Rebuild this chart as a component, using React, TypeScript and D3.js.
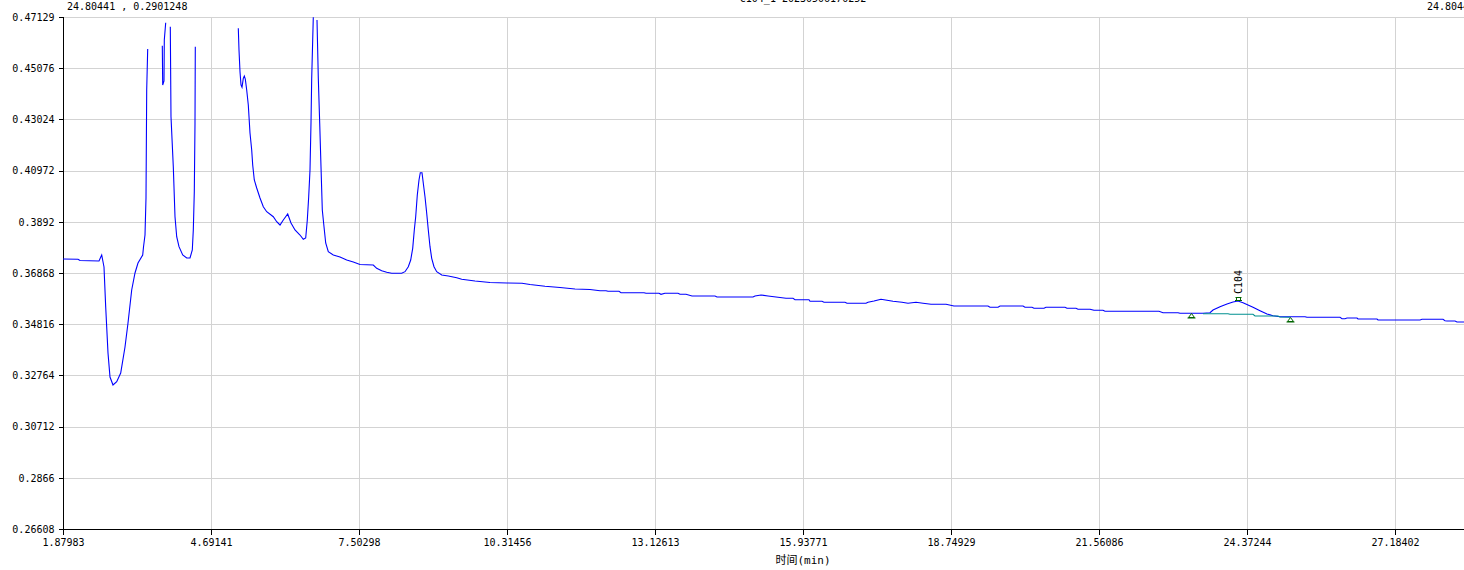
import React, { useRef, useEffect } from "react";
import * as d3 from "d3";

// axis ticks as printed by the instrument software (last one lies past the window edge)
const xTicks = [
  1.87983, 4.69141, 7.50298, 10.31456, 13.12613, 15.93771, 18.74929, 21.56086,
  24.37244, 27.18402, 29.9956,
];
const yTicks = [
  0.26608, 0.2866, 0.30712, 0.32764, 0.34816, 0.36868, 0.3892, 0.40972,
  0.43024, 0.45076, 0.47129,
];

const cursorText = "24.80441 , 0.2901248";
const cursorRight = "24.80441";
const sampleTitle = "C104_1 20230506170252";
const xTitle = "时间(min)";

// chromatogram trace [time (min), signal]; values above the top are off-scale peaks
const trace: [number, number][] = [
  [1.8798, 0.3743], [2.1648, 0.37418], [2.2028, 0.3737], [2.5637, 0.37349],
  [2.615, 0.3759], [2.6587, 0.37109], [2.691, 0.35506], [2.7347, 0.33662],
  [2.7727, 0.327], [2.8297, 0.3238], [2.9, 0.32512], [2.976, 0.32861],
  [3.0577, 0.33903], [3.1147, 0.34865], [3.1849, 0.36187], [3.2476, 0.36869],
  [3.3046, 0.37269], [3.3939, 0.3759], [3.4091, 0.37911], [3.4376, 0.38392],
  [3.4566, 0.39875], [3.4699, 0.44203], [3.4889, 0.45846], [3.5326, 0.52],
  [3.6846, 0.5], [3.7663, 0.45979], [3.7739, 0.44404], [3.7986, 0.44564],
  [3.8043, 0.46207], [3.8308, 0.46901], [3.865, 0.53], [3.9182, 0.4674],
  [3.9315, 0.43133], [3.9752, 0.41129], [4.0075, 0.39125], [4.0398, 0.38323],
  [4.0835, 0.37923], [4.1538, 0.3759], [4.2298, 0.3747], [4.2925, 0.3747],
  [4.3362, 0.3779], [4.3552, 0.38592], [4.3742, 0.40127], [4.3875, 0.42881],
  [4.3932, 0.45939], [4.4255, 0.52], [4.8624, 0.55], [5.1853, 0.5],
  [5.21, 0.46676], [5.2233, 0.45806], [5.2423, 0.44937], [5.2613, 0.44404],
  [5.2803, 0.44311], [5.305, 0.44672], [5.324, 0.44764], [5.343, 0.44644],
  [5.3696, 0.44203], [5.4, 0.43602], [5.4323, 0.4248], [5.4646, 0.41798],
  [5.4836, 0.41197], [5.514, 0.40596], [5.5596, 0.40275], [5.6223, 0.39875],
  [5.685, 0.39526], [5.7496, 0.39325], [5.8749, 0.39125], [5.9395, 0.38925],
  [6.0022, 0.38792], [6.0649, 0.38993], [6.1485, 0.39233], [6.2112, 0.38873],
  [6.2872, 0.38592], [6.3822, 0.38392], [6.4449, 0.38219], [6.4904, 0.38271],
  [6.5209, 0.38993], [6.5474, 0.39927], [6.5721, 0.40997], [6.5911, 0.42881],
  [6.6044, 0.44672], [6.6234, 0.46207], [6.6348, 0.47117], [6.6671, 0.53],
  [6.7051, 0.47009], [6.7298, 0.44684], [6.7564, 0.42881], [6.7811, 0.41129],
  [6.8058, 0.39394], [6.8381, 0.38724], [6.8704, 0.38071], [6.9198, 0.37722],
  [7.0148, 0.3759], [7.1421, 0.3751], [7.2693, 0.3739], [7.3947, 0.37309],
  [7.522, 0.37209], [7.7747, 0.37189], [7.8393, 0.37057], [7.9342, 0.36961],
  [8.0292, 0.36897], [8.1242, 0.36856], [8.3142, 0.36856], [8.3769, 0.36921],
  [8.4396, 0.37121], [8.4852, 0.3739], [8.5232, 0.37858], [8.5536, 0.38592],
  [8.5801, 0.39125], [8.6105, 0.39995], [8.6428, 0.40596], [8.6675, 0.40889],
  [8.6998, 0.40889], [8.7245, 0.40464], [8.7568, 0.39927], [8.7891, 0.39261],
  [8.8195, 0.38592], [8.8518, 0.37923], [8.8841, 0.37458], [8.9278, 0.37121],
  [8.9791, 0.36921], [9.0741, 0.36788], [9.1995, 0.36748], [9.359, 0.3668],
  [9.454, 0.36616], [9.7067, 0.36548], [9.9916, 0.36488], [10.3146, 0.36468],
  [10.5995, 0.36456], [10.7515, 0.36408], [11.0365, 0.36335], [11.3214, 0.36287],
  [11.6064, 0.36227], [11.8914, 0.36207], [12.0813, 0.36159], [12.1953, 0.36159],
  [12.2333, 0.36135], [12.4423, 0.36135], [12.4803, 0.36079], [12.9172, 0.36079],
  [12.9552, 0.36055], [13.2022, 0.36055], [13.2402, 0.36015], [13.3161, 0.36055],
  [13.5631, 0.36055], [13.6011, 0.36015], [13.7151, 0.36015], [13.8291, 0.35947],
  [14.266, 0.35947], [14.304, 0.35907], [14.9879, 0.35907], [15.0259, 0.35947],
  [15.1399, 0.35987], [15.2729, 0.35947], [15.4248, 0.35907], [15.6148, 0.35854],
  [15.7478, 0.35854], [15.7858, 0.35798], [16.0517, 0.35798], [16.0707, 0.35734],
  [16.2987, 0.35734], [16.3367, 0.35694], [16.7356, 0.35694], [16.7736, 0.35654],
  [17.1346, 0.35654], [17.1726, 0.35694], [17.2866, 0.35746], [17.4195, 0.35814],
  [17.5335, 0.35774], [17.6475, 0.35734], [17.8185, 0.35694], [17.9325, 0.35654],
  [18.0844, 0.35694], [18.2174, 0.35654], [18.3694, 0.35614], [18.6544, 0.35614],
  [18.8063, 0.35546], [19.4522, 0.35546], [19.4902, 0.35494], [19.6422, 0.35494],
  [19.6802, 0.35546], [20.1171, 0.35546], [20.1551, 0.35494], [20.2881, 0.35494],
  [20.3261, 0.35454], [20.5161, 0.35454], [20.5541, 0.35494], [20.915, 0.35494],
  [20.953, 0.35454], [21.124, 0.35454], [21.162, 0.35414], [21.39, 0.35414],
  [21.4659, 0.35374], [21.6369, 0.35374], [21.6749, 0.35333], [22.7008, 0.35333],
  [22.7768, 0.35277], [23.0617, 0.35277], [23.0997, 0.35253], [23.5366, 0.35253],
  [23.6696, 0.35277], [23.7266, 0.35386], [23.8596, 0.35518], [23.9926, 0.35626],
  [24.1066, 0.35706], [24.2015, 0.35746], [24.2965, 0.35678], [24.3915, 0.35586],
  [24.4865, 0.35494], [24.6195, 0.35358], [24.7525, 0.35225], [24.8664, 0.35157],
  [24.9994, 0.35117], [25.4744, 0.35117], [25.5124, 0.35093], [26.1393, 0.35093],
  [26.1773, 0.35037], [26.2342, 0.35037], [26.2722, 0.35065], [26.4622, 0.35065],
  [26.4812, 0.35025], [26.8422, 0.35025], [26.8612, 0.34985], [27.659, 0.34985],
  [27.697, 0.35013], [28.096, 0.35013], [28.134, 0.34957], [28.1719, 0.34945],
  [28.3239, 0.34945], [28.3619, 0.34905], [28.6089, 0.34905],
];

// integration baseline under the C104 peak
const baseline: [number, number][] = [
  [23.5366, 0.35237], [24.0116, 0.35237], [24.0496, 0.35213], [24.4865, 0.35213],
  [24.5245, 0.35145], [24.9614, 0.35145], [24.9994, 0.35105], [25.1894, 0.35093],
];

const peakNames = ["C104"];
const peakApex: [number, number][] = [[24.192, 0.35746]];
const peakStart: [number, number][] = [[23.2997, 0.35277]];
const peakEnd: [number, number][] = [[25.1894, 0.35093]];

const W = 1464;
const H = 570;
const FONT = "'DejaVu Sans Mono', 'Noto Sans CJK SC', monospace";

export default function App() {
  const ref = useRef<SVGSVGElement>(null);

  useEffect(() => {
    const svg = d3.select(ref.current);
    svg.selectAll("*").remove();

    const x = d3.scaleLinear().domain([xTicks[0], xTicks[xTicks.length - 1]]).range([63, 1543]);
    const y = d3.scaleLinear().domain([yTicks[0], yTicks[yTicks.length - 1]]).range([529, 17]);
    const yMax = yTicks[yTicks.length - 1];
    const [left, right] = x.range();
    const [bottom, top] = y.range();

    // grid
    const grid = svg.append("g").attr("stroke", "#d3d3d3").attr("shape-rendering", "crispEdges");
    grid.selectAll("line.v")
      .data(xTicks.slice(1))
      .join("line")
      .attr("x1", (d) => Math.round(x(d)) + 0.5)
      .attr("x2", (d) => Math.round(x(d)) + 0.5)
      .attr("y1", top)
      .attr("y2", bottom);
    grid.selectAll("line.h")
      .data(yTicks.slice(1))
      .join("line")
      .attr("x1", left)
      .attr("x2", right)
      .attr("y1", (d) => Math.round(y(d)) + 0.5)
      .attr("y2", (d) => Math.round(y(d)) + 0.5);

    // y axis
    const yAxis = svg.append("g")
      .attr("transform", `translate(${left + 0.5},0)`)
      .call(d3.axisLeft(y).tickValues(yTicks).tickSize(5).tickPadding(4)
        .tickFormat((d) => String(d)));
    yAxis.select(".domain").attr("d", `M0,${top}V${bottom}`).attr("shape-rendering", "crispEdges");
    yAxis.selectAll(".tick line").attr("shape-rendering", "crispEdges");
    yAxis.selectAll("text").style("font-family", FONT).style("font-size", "10px").attr("fill", "#000");

    // x axis (only the ticks inside the window get labels)
    const xAxis = svg.append("g")
      .attr("transform", `translate(0,${bottom + 0.5})`)
      .call(d3.axisBottom(x).tickValues(xTicks.slice(0, -1)).tickSize(5).tickPadding(4)
        .tickFormat((d) => String(d)));
    xAxis.select(".domain").attr("d", `M${left},0H${right}`).attr("shape-rendering", "crispEdges");
    xAxis.selectAll(".tick line").attr("shape-rendering", "crispEdges");
    xAxis.selectAll("text").style("font-family", FONT).style("font-size", "10px").attr("fill", "#000");

    // axis title
    svg.append("text")
      .attr("x", (left + right) / 2)
      .attr("y", 564)
      .attr("text-anchor", "middle")
      .style("font-family", FONT)
      .style("font-size", "11px")
      .text(xTitle);

    // header texts (cut by the window edges, as in the original screen)
    svg.append("text").attr("x", 67).attr("y", 9.5)
      .style("font-family", FONT).style("font-size", "10px").text(cursorText);
    svg.append("text").attr("x", 1427).attr("y", 9.5)
      .style("font-family", FONT).style("font-size", "10px").text(cursorRight);
    svg.append("text").attr("x", (left + right) / 2).attr("y", 1.5)
      .attr("text-anchor", "middle")
      .style("font-family", FONT).style("font-size", "10px").text(sampleTitle);

    const line = d3.line<[number, number]>()
      .defined((d) => d[1] <= yMax)
      .x((d) => x(d[0]))
      .y((d) => y(d[1]));

    svg.append("path")
      .datum(trace)
      .attr("fill", "none")
      .attr("stroke", "#0000ff")
      .attr("stroke-width", 1.1)
      .attr("d", line);

    svg.append("path")
      .datum(baseline)
      .attr("fill", "none")
      .attr("stroke", "#009090")
      .attr("stroke-width", 1.1)
      .attr("d", line);

    // peak markers
    const tri = (cx: number, cy: number) =>
      `M${cx - 3},${cy + 4}L${cx},${cy}L${cx + 3},${cy + 4}ZM${cx - 4},${cy + 4.5}H${cx + 4}`;
    const marks = svg.append("g").attr("fill", "none").attr("stroke", "#006400").attr("stroke-width", 1);
    [...peakStart, ...peakEnd].forEach((p) => {
      marks.append("path").attr("d", tri(Math.round(x(p[0])) + 0.5, Math.round(y(p[1])) + 0.5));
    });
    peakApex.forEach((p, i) => {
      const cx = Math.round(x(p[0])) + 0.5;
      const cy = Math.round(y(p[1]));
      marks.append("path").attr("d", `M${cx - 3},${cy - 3.5}H${cx + 3}M${cx - 2},${cy - 3.5}V${cy - 0.5}M${cx + 2},${cy - 3.5}V${cy - 0.5}M${cx - 3.5},${cy - 0.5}H${cx + 3.5}`);
      svg.append("text")
        .attr("transform", `translate(${cx + 3},${cy - 7}) rotate(-90)`)
        .style("font-family", FONT)
        .style("font-size", "10px")
        .text(peakNames[i]);
    });
  }, []);

  return (
    <div style={{ position: "fixed", left: 0, top: 0, width: W, height: H, overflow: "hidden", background: "#fff" }}>
      <svg ref={ref} width={W} height={H} style={{ display: "block" }} />
    </div>
  );
}
